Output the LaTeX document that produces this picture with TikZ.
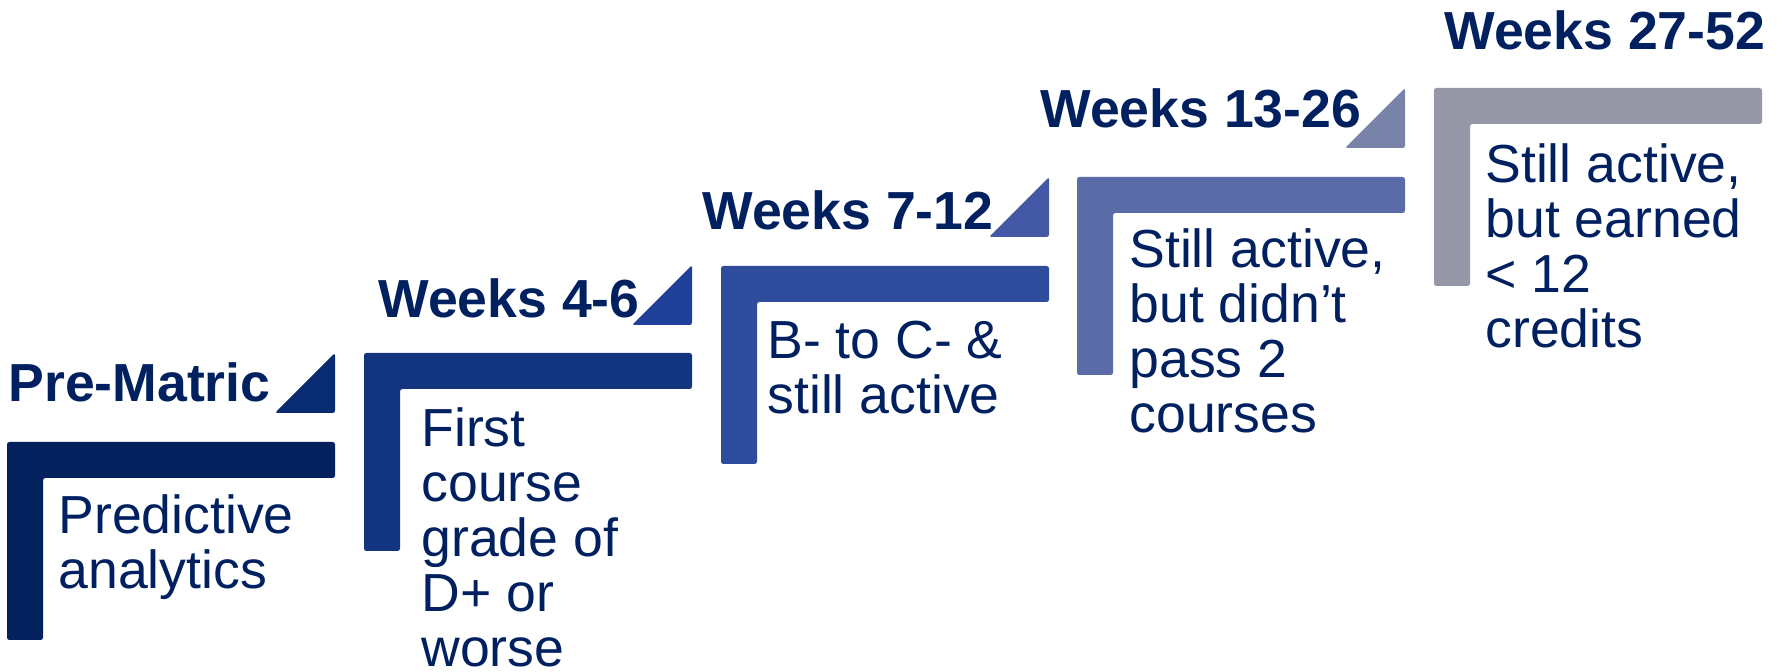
\documentclass[tikz,border=0pt]{standalone}
\usepackage{fontspec}
\setmainfont{Liberation Sans}
\definecolor{txt}{HTML}{002060}
\definecolor{cL0}{HTML}{03215C}
\definecolor{cT0}{HTML}{082B72}
\definecolor{cL1}{HTML}{133580}
\definecolor{cT1}{HTML}{21409A}
\definecolor{cL2}{HTML}{2E4C9C}
\definecolor{cT2}{HTML}{4359A5}
\definecolor{cL3}{HTML}{5B6BA8}
\definecolor{cT3}{HTML}{7982A8}
\definecolor{cL4}{HTML}{9698A8}
\newcommand\mylines[1]{\vtop{\baselineskip=27.5pt\halign{##\hfil\cr #1\crcr}}}
\newcommand\myL[3]{\fill[#3, rounded corners=1.2pt] (#1,#2) -- ++(328,0) -- ++(0,36) -- ++(-292,0) -- ++(0,162) -- ++(-36,0) -- cycle;}
\newcommand\myT[3]{\fill[#3, rounded corners=1.2pt] (#1,#2) -- ++(60,0) -- ++(0,-60) -- cycle;}
\begin{document}
\begin{tikzpicture}[x=0.5pt,y=-0.5pt,
  titletext/.style={anchor=base west, inner sep=0pt, font=\fontsize{26.8}{27.5}\selectfont\bfseries, text=txt},
  bodytext/.style={anchor=base west, inner sep=0pt, font=\fontsize{26.8}{27.5}\selectfont, text=txt}]
\useasboundingbox (0,0) rectangle (1777,672);
% stage 0
\myL{7}{442}{cL0}
\myT{275}{413}{cT0}
\node[titletext] (t0) at (8,402) {Pre-Matric};
\node[bodytext] (b0) at (58,534) {\mylines{Predictive\cr analytics}};
% stage 1
\myL{364}{353}{cL1}
\myT{632}{325}{cT1}
\node[titletext] (t1) at (378,318) {Weeks 4-6};
\node[bodytext] (b1) at (421,447) {\mylines{First\cr course\cr grade of\cr D+ or\cr worse}};
% stage 2
\myL{721}{266}{cL2}
\myT{989}{237}{cT2}
\node[titletext] (t2) at (702,230) {Weeks 7-12};
\node[bodytext] (b2) at (767,359) {\mylines{B- to C- \&\cr still active}};
% stage 3
\myL{1077}{177}{cL3}
\myT{1345}{148}{cT3}
\node[titletext] (t3) at (1040,128) {Weeks 13-26};
\node[bodytext] (b3) at (1129,268) {\mylines{Still active,\cr but didn’t\cr pass 2\cr courses}};
% stage 4
\myL{1434}{88}{cL4}
\node[titletext] (t4) at (1444,50) {Weeks 27-52};
\node[bodytext] (b4) at (1485,183) {\mylines{Still active,\cr but earned\cr \textless{} 12\cr credits}};
\end{tikzpicture}
\end{document}
